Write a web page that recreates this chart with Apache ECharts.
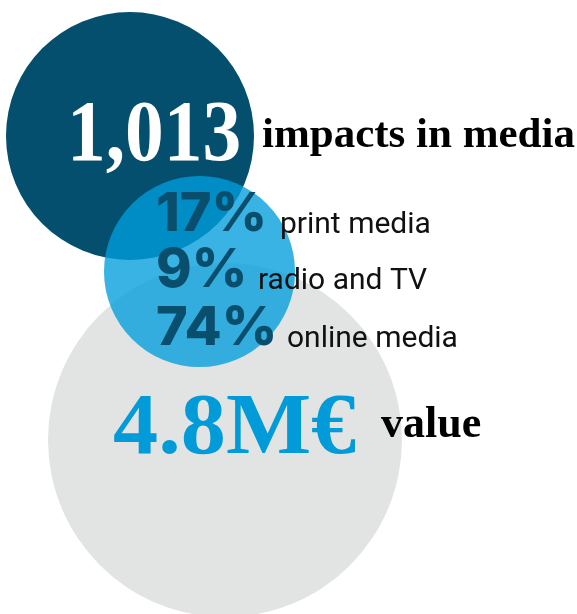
<!DOCTYPE html>
<html>
<head>
<meta charset="utf-8">
<script src="https://cdn.jsdelivr.net/npm/echarts@6/dist/echarts.min.js"></script>
<style>
html,body{margin:0;padding:0;background:#fff;}
#c{width:577px;height:614px;}
</style>
</head>
<body>
<div id="c"></div>
<script>
// Circles: [centerX, centerY, diameter] in page units
const circleNames = ['value', 'impacts', 'split'];
const circleX = [225, 130, 199.5];
const circleY = [440, 136, 271.5];
const circleD = [354, 248, 191];

const impactsValue = '1,013';
const impactsLabel = 'impacts in media';
const shareValues = ['17%', '9%', '74%'];
const shareLabels = ['print media', 'radio and TV', 'online media'];
const moneyValue = '4.8M€';
const moneyLabel = 'value';

const circleColors = ['#e2e4e3', '#034f6d', 'rgba(0,157,220,0.78)'];

const chart = echarts.init(document.getElementById('c'));

const series = circleNames.map((n, i) => ({
  type: 'scatter',
  name: n,
  silent: true,
  z: i + 1,
  symbol: 'circle',
  symbolSize: circleD[i],
  itemStyle: { color: circleColors[i], opacity: 1 },
  data: [[circleX[i], circleY[i]]]
}));

const serif = '"Liberation Serif", "DejaVu Serif", serif';
const sans = 'Roboto, "Noto Sans", sans-serif';
// baseline -> top offset factors for each font
function txt(text, x, baseline, size, k, color, family, weight, scaleX) {
  return {
    type: 'text', x: x, y: baseline - k * size, z: 100, scaleX: scaleX || 1,
    style: { text: text, fill: color, font: weight + ' ' + size + 'px ' + family,
             verticalAlign: 'top', align: 'left' }
  };
}

const graphics = [
  txt(impactsValue, 67, 160, 86, 0.755, '#ffffff', serif, 'bold', 0.9),
  txt(impactsLabel, 262, 147, 43, 0.755, '#000000', serif, 'bold', 1),
  txt(moneyValue, 113, 453, 86, 0.755, '#009bd8', serif, 'bold', 1.05),
  txt(moneyLabel, 381, 437, 44, 0.755, '#000000', serif, 'bold', 1)
];
const shareY = [233, 289, 347];
const shareLabelX = [280, 258, 287];
shareValues.forEach((v, i) => {
  graphics.push(txt(v, 156, shareY[i], 54, 0.83, '#0a4e6e', '"Inter", Roboto, sans-serif', '800', 1));
  graphics.push(txt(shareLabels[i], shareLabelX[i], shareY[i] - 1, 30, 0.73, '#111111', sans, 'normal', 1));
});

chart.setOption({
  animation: false,
  grid: { left: 0, right: 0, top: 0, bottom: 0 },
  xAxis: { type: 'value', min: 0, max: 577, show: false },
  yAxis: { type: 'value', min: 0, max: 614, inverse: true, show: false },
  series: series,
  graphic: graphics
});
</script>
</body>
</html>
